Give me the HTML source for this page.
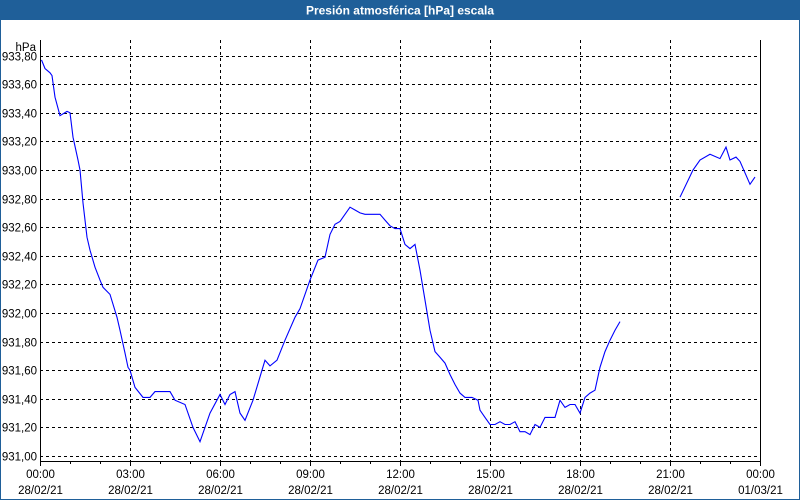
<!DOCTYPE html>
<html><head><meta charset="utf-8"><style>
html,body{margin:0;padding:0;background:#fff}
body{width:800px;height:500px;overflow:hidden;font-family:"Liberation Sans","DejaVu Sans",sans-serif}
</style></head><body>
<svg id="c" width="800" height="500" xmlns="http://www.w3.org/2000/svg" style="display:block">
<rect x="0" y="0" width="800" height="500" fill="#fff"/>
<rect x="0" y="0" width="800" height="20" fill="#1f5f99"/>
<rect x="0.5" y="0.5" width="799" height="499" fill="none" stroke="#1f5f99"/>
<text x="400" y="14.5" text-anchor="middle" font-size="12" font-weight="bold" fill="#fff">Presión atmosférica [hPa] escala</text>
<text x="36" y="51" text-anchor="end" font-size="11.5" fill="#000">hPa</text>
<g id="grid"></g><g id="axes"></g><g id="series"></g>
</svg>
<script>
const yTicks=[931.0,931.2,931.4,931.6,931.8,932.0,932.2,932.4,932.6,932.8,933.0,933.2,933.4,933.6,933.8];
const xTickHours=[0,3,6,9,12,15,18,21,24];
const xTickTimes=["00:00","03:00","06:00","09:00","12:00","15:00","18:00","21:00","00:00"];
const xTickDates=["28/02/21","28/02/21","28/02/21","28/02/21","28/02/21","28/02/21","28/02/21","28/02/21","01/03/21"];
const minutes=[3,10,20,24,30,40,54,60,66,76,80,86,94,100,110,120,126,140,154,160,170,176,180,190,206,220,230,254,260,270,290,306,320,340,360,370,380,390,400,410,426,444,450,460,474,490,510,520,540,556,570,580,590,600,620,630,640,650,660,670,680,690,700,710,720,730,740,750,760,770,780,790,800,810,820,830,840,850,864,876,880,890,900,910,920,930,940,950,960,970,980,990,1000,1010,1030,1040,1050,1060,1070,1080,1090,1100,1110,1120,1130,1140,1150,1160,1200,1280,1306,1320,1340,1360,1372,1380,1392,1400,1420,1430];
const pressure=[933.77,933.71,933.68,933.66,933.51,933.38,933.41,933.40,933.23,933.07,933.00,932.77,932.53,932.44,932.32,932.23,932.18,932.13,931.97,931.88,931.72,931.62,931.60,931.48,931.41,931.41,931.45,931.45,931.45,931.39,931.36,931.20,931.10,931.30,931.43,931.36,931.43,931.45,931.30,931.25,931.39,931.60,931.67,931.63,931.67,931.81,931.97,932.03,932.23,932.37,932.39,932.55,932.62,932.64,932.74,932.72,932.70,932.69,932.69,932.69,932.69,932.65,932.61,932.59,932.59,932.48,932.45,932.48,932.30,932.09,931.88,931.73,931.69,931.65,931.57,931.50,931.44,931.41,931.41,931.39,931.32,931.27,931.22,931.22,931.24,931.22,931.22,931.24,931.17,931.17,931.15,931.22,931.20,931.27,931.27,931.39,931.34,931.36,931.36,931.30,931.41,931.44,931.46,931.62,931.73,931.81,931.88,931.94,null,932.81,933.00,933.07,933.11,933.08,933.16,933.07,933.09,933.06,932.90,932.95];

const NS="http://www.w3.org/2000/svg";
const L=40,R=760,T=40,B=461;
const xS=h=>L+(h/24)*(R-L);
const yS=v=>456-(v-931)*143;
function mk(tag,attrs,parent){const e=document.createElementNS(NS,tag);for(const k in attrs)e.setAttribute(k,attrs[k]);parent.appendChild(e);return e;}
const grid=document.getElementById('grid'),axes=document.getElementById('axes'),ser=document.getElementById('series');
yTicks.forEach(v=>{
  const y=Math.round(yS(v))+0.5;
  const g=mk('line',{x1:L,x2:R-3,y1:y,y2:y,stroke:'#000','stroke-dasharray':'3,3','stroke-width':1},grid);
  
  
  const t=mk('text',{x:37,y:y+4,'text-anchor':'end','font-size':'11.5',fill:'#000'},axes);
  t.textContent=v.toFixed(2).replace('.',',');
  
  
});
xTickHours.forEach((h,i)=>{
  const x=Math.round(xS(h))+0.5;
  if(i>0&&i<xTickHours.length-1){
    const g=mk('line',{x1:x,x2:x,y1:T,y2:B,stroke:'#000','stroke-dasharray':'3,3','stroke-width':1},grid);
    
    
  }
  const t1=mk('text',{x:x,y:478,'text-anchor':'middle','font-size':'11.5',fill:'#000'},axes);
  t1.textContent=xTickTimes[i];
  
  
  const t2=mk('text',{x:x,y:494,'text-anchor':'middle','font-size':'11.5',fill:'#000'},axes);
  t2.textContent=xTickDates[i];
  
  
});
for(let h=0;h<=24;h++){
  const x=Math.round(xS(h))+0.5;
  const tk=mk('line',{x1:x,x2:x,y1:B,y2:B+(h%3===0?5:3),stroke:'#000'},axes);
  
  
}
const ax=mk('path',{d:`M${L+0.5},${T} V${B+0.5} H${R+0.5} V${T}`,fill:'none',stroke:'#000','stroke-width':1},axes);


let d='',pen=false;
minutes.forEach((m,i)=>{
  const v=pressure[i];
  if(v===null){pen=false;return;}
  d+=(pen?'L':'M')+xS(m/60).toFixed(1)+','+yS(v).toFixed(1)+' ';
  pen=true;
});
const p=mk('path',{d:d,fill:'none',stroke:'#0000ff','stroke-width':1.1},ser);


</script>
</body></html>
